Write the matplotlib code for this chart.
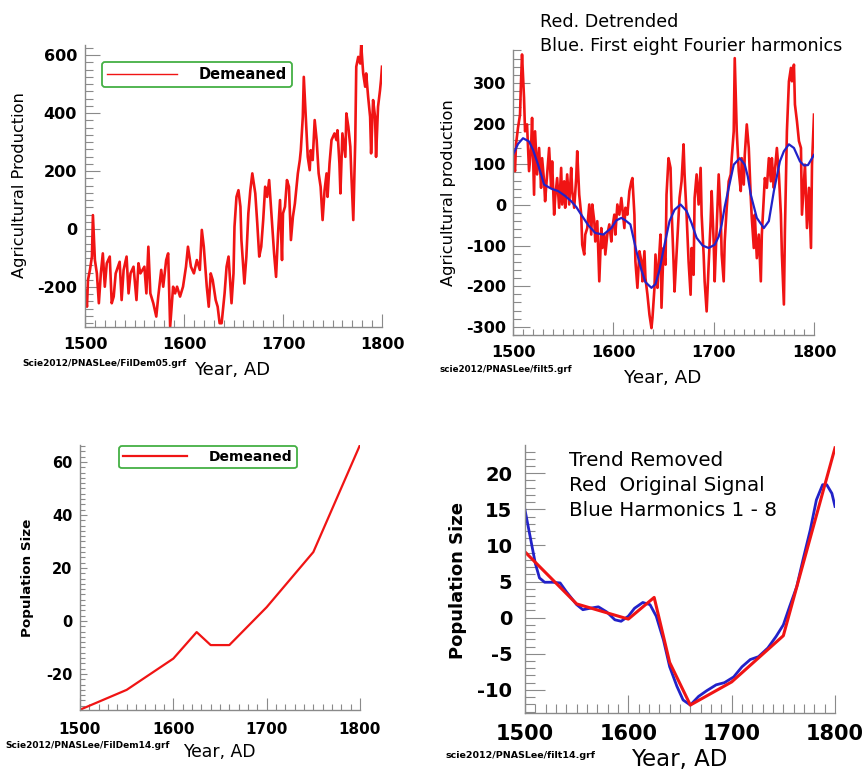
import matplotlib
matplotlib.use('Agg')
import matplotlib.pyplot as plt
from matplotlib.ticker import MultipleLocator

plt.rcParams['font.family'] = ['DejaVu Sans']
plt.rcParams['axes.unicode_minus'] = False

# ---------------- data ----------------
# Panel 1: agricultural production, demeaned
agri_years = [1500, 1502, 1503, 1505, 1507, 1508, 1510, 1512, 1514, 1516, 1518, 1520, 1522, 1525,
              1527, 1529, 1531, 1535, 1537, 1539, 1542, 1544, 1546, 1549, 1552, 1554, 1556, 1560,
              1562, 1564, 1566, 1569, 1572, 1574, 1577, 1579, 1582, 1584, 1586, 1589, 1591, 1593,
              1596, 1599, 1602, 1604, 1607, 1610, 1613, 1616, 1618, 1620, 1623, 1625, 1627, 1629,
              1632, 1634, 1636, 1638, 1641, 1643, 1645, 1648, 1650, 1651, 1653, 1655, 1657, 1658,
              1661, 1663, 1665, 1667, 1669, 1672, 1674, 1676, 1678, 1680, 1682, 1684, 1686, 1689,
              1691, 1693, 1695, 1697, 1699, 1700, 1702, 1704, 1706, 1708, 1710, 1712, 1715, 1717,
              1718, 1720, 1721, 1723, 1725, 1727, 1728, 1730, 1732, 1734, 1736, 1738, 1740, 1742,
              1744, 1745, 1747, 1749, 1752, 1754, 1755, 1757, 1758, 1760, 1763, 1764, 1766, 1768,
              1769, 1771, 1773, 1774, 1776, 1778, 1779, 1781, 1783, 1784, 1786, 1788, 1789, 1791,
              1793, 1794, 1796, 1798, 1799, 1800]
agri_demeaned = [-210, -268, -176, -141, -95, 48, -107, -153, -256, -153, -84, -199, -118, -95,
                 -256, -233, -153, -113, -245, -141, -95, -222, -153, -130, -245, -118, -153, -130,
                 -222, -61, -222, -256, -302, -233, -141, -199, -107, -84, -337, -199, -222, -199,
                 -233, -199, -130, -61, -130, -153, -107, -141, -3, -61, -199, -268, -153, -176,
                 -245, -268, -325, -325, -222, -130, -95, -256, -153, 8, 111, 134, 77, -38,
                 -188, -95, 54, 134, 192, 123, 20, -95, -61, 31, 146, 111, 169, 20,
                 -84, -165, -15, 100, -107, 54, 77, 169, 146, -38, 42, 88, 192, 238,
                 272, 387, 525, 387, 249, 203, 272, 238, 376, 307, 192, 146, 31, 134,
                 192, 111, 226, 307, 330, 307, 341, 226, 123, 330, 249, 399, 353, 284,
                 192, 31, 307, 560, 594, 571, 635, 537, 491, 537, 456, 387, 261, 445,
                 387, 249, 422, 479, 514, 560]

# Panel 2: detrended production (red) and first eight Fourier harmonics (blue)
detr_years = [1500, 1502, 1503, 1505, 1507, 1508, 1509, 1511, 1512, 1514, 1516, 1518, 1519, 1521,
              1522, 1524, 1526, 1528, 1529, 1531, 1532, 1534, 1536, 1538, 1539, 1541, 1542, 1544,
              1546, 1548, 1549, 1551, 1552, 1554, 1556, 1558, 1559, 1561, 1563, 1564, 1566, 1568,
              1569, 1571, 1572, 1574, 1576, 1578, 1579, 1581, 1582, 1584, 1586, 1588, 1589, 1591,
              1592, 1594, 1596, 1598, 1599, 1601, 1602, 1604, 1606, 1608, 1609, 1611, 1612, 1614,
              1616, 1618, 1619, 1621, 1622, 1624, 1626, 1628, 1629, 1631, 1632, 1634, 1636, 1638,
              1639, 1641, 1642, 1644, 1645, 1647, 1648, 1650, 1652, 1653, 1655, 1657, 1658, 1660,
              1661, 1664, 1666, 1668, 1670, 1671, 1673, 1675, 1677, 1678, 1680, 1681, 1683, 1685,
              1687, 1688, 1690, 1691, 1693, 1695, 1697, 1698, 1700, 1701, 1703, 1705, 1707, 1708,
              1710, 1711, 1713, 1715, 1717, 1718, 1720, 1721, 1723, 1725, 1727, 1728, 1730, 1731,
              1733, 1735, 1737, 1738, 1740, 1741, 1743, 1745, 1747, 1748, 1750, 1751, 1753, 1755,
              1757, 1758, 1760, 1761, 1763, 1765, 1767, 1768, 1770, 1771, 1773, 1775, 1777, 1778,
              1780, 1781, 1783, 1785, 1787, 1788, 1790, 1791, 1793, 1795, 1797, 1798, 1800]
detr_values = [123, 83, 149, 190, 222, 304, 370, 263, 181, 198, 83, 140, 214, 25,
               181, 75, 140, 42, 115, 58, 9, 75, 140, 42, 107, -24, 17, 66,
               -7, 91, 1, 58, -7, 75, 1, 91, 34, -7, 66, 132, 25, -24,
               -98, -122, -73, -57, 1, -73, 1, -40, -90, -40, -188, -57, -106, -73,
               -122, -73, -48, -90, -57, -24, -73, 1, -24, 17, -7, -57, -7, -24,
               34, 58, 66, -24, -139, -204, -114, -139, -188, -114, -180, -221, -270, -303,
               -278, -204, -122, -204, -155, -73, -253, -106, -147, 25, 115, 91, -7, -139,
               -213, -73, 17, 58, 149, 75, -24, -139, -221, -106, -172, 17, 75, 1,
               91, -24, -122, -188, -262, -147, -40, 34, -90, -188, -57, 75, -24, -122,
               -188, -90, -7, 58, 75, 115, 181, 361, 181, 83, 34, 115, 50, 123,
               198, 140, 17, -32, -106, -24, -131, -73, -188, -73, 17, 66, 42, 115,
               58, 115, 42, 83, 140, 75, -24, -122, -245, -65, 181, 304, 337, 304,
               345, 247, 206, 157, 140, -24, 58, 99, -57, 42, -106, 99, 222]
harm_years = [1500, 1505, 1510, 1516, 1520, 1525, 1531, 1538, 1545, 1552, 1558, 1563, 1568, 1575,
              1582, 1590, 1598, 1603, 1608, 1612, 1617, 1623, 1628, 1632, 1638, 1642, 1646, 1650,
              1656, 1661, 1667, 1673, 1678, 1683, 1689, 1695, 1701, 1705, 1708, 1711, 1715, 1720,
              1726, 1731, 1734, 1737, 1743, 1750, 1755, 1760, 1766, 1770, 1775, 1780, 1786, 1790,
              1794, 1800]
harm_values = [123, 150, 164, 156, 135, 99, 50, 40, 34, 22, 9, -5, -24, -50,
               -69, -73, -57, -38, -32, -38, -48, -114, -160, -190, -204, -195, -160, -110,
               -40, -12, 1, -15, -45, -81, -100, -106, -98, -78, -48, -5, 42, 99,
               115, 99, 70, 25, -32, -57, -40, 34, 107, 132, 149, 140, 107, 97,
               98, 123]

# Panel 3: population size, demeaned
pop_years = [1500, 1550, 1600, 1625, 1640, 1660, 1700, 1750, 1800]
pop_demeaned = [-33.5, -26.0, -14.2, -4.2, -9.1, -9.1, 5.2, 26.0, 66.4]

# Panel 4: population, trend removed (red) and harmonics 1-8 (blue)
pop_detrended = [9.1, 1.9, -0.2, 2.8, -6.2, -12.1, -8.9, -2.5, 23.5]
popharm_years = [1500, 1505, 1510, 1514, 1519, 1527, 1534, 1540, 1550, 1556, 1563, 1571, 1579, 1587,
                 1593, 1600, 1606, 1614, 1621, 1627, 1634, 1640, 1647, 1653, 1660, 1668, 1676, 1685,
                 1693, 1702, 1710, 1718, 1726, 1735, 1743, 1750, 1756, 1763, 1769, 1776, 1782, 1788,
                 1792, 1797, 1800]
popharm_values = [14.9, 11.2, 7.5, 5.5, 4.9, 4.9, 4.8, 3.6, 1.8, 1.1, 1.3, 1.5, 0.8, -0.3,
                  -0.5, 0.2, 1.3, 2.1, 1.8, 0.2, -3.1, -6.8, -9.5, -11.4, -12.1, -10.9, -10.1, -9.3,
                  -9.0, -8.2, -6.8, -5.8, -5.4, -4.2, -2.6, -1.0, 1.5, 4.3, 8.0, 12.1, 16.3, 18.4,
                  18.4, 17.2, 15.4]

x_ticks = [1500, 1600, 1700, 1800]

# ---------------- drawing ----------------
RED = '#f01414'
BLUE = '#2222c8'
GRAY = '#8a8a8a'
GREEN = '#44b044'
W, H = 866, 773

fig = plt.figure(figsize=(8.66, 7.73), dpi=100)
fig.patch.set_facecolor('white')


def add_axes(l, t, r, b):
    return fig.add_axes([l / W, 1 - b / H, (r - l) / W, (b - t) / H])


def style(ax, ylim, ymaj, ymin, xls, yls, ymaj_len, ymin_len, xmaj_len, xmin_len, xpad, ypad):
    ax.set_xlim(1500, 1800)
    ax.set_ylim(*ylim)
    for s in ['top', 'right']:
        ax.spines[s].set_visible(False)
    for s in ['left', 'bottom']:
        ax.spines[s].set_color(GRAY)
        ax.spines[s].set_linewidth(1.0)
    ax.set_xticks(x_ticks)
    ax.xaxis.set_minor_locator(MultipleLocator(10))
    ax.yaxis.set_major_locator(MultipleLocator(ymaj))
    ax.yaxis.set_minor_locator(MultipleLocator(ymin))
    ax.tick_params(axis='x', which='major', direction='in', length=xmaj_len, width=0.8,
                   color=GRAY, labelsize=xls, pad=xpad)
    ax.tick_params(axis='x', which='minor', direction='in', length=xmin_len, width=0.8, color=GRAY)
    ax.tick_params(axis='y', which='major', direction='in', length=ymaj_len, width=0.8,
                   color=GRAY, labelsize=yls, pad=ypad)
    ax.tick_params(axis='y', which='minor', direction='in', length=ymin_len, width=0.8, color=GRAY)
    for lab in ax.get_xticklabels() + ax.get_yticklabels():
        lab.set_fontweight('bold')
    ax.set_facecolor('none')


def labels(ax, xl, xsize, xpos, yl, ysize, ypos, yweight='normal'):
    ax.set_xlabel(xl, fontsize=xsize)
    ax.xaxis.label.set_va('center')
    ax.xaxis.set_label_coords(*xpos)
    ax.set_ylabel(yl, fontsize=ysize, fontweight=yweight)
    ax.yaxis.label.set_va('center')
    ax.yaxis.set_label_coords(*ypos)


# Panel 1
ax1 = add_axes(85, 45, 382, 327)
ax1.plot(agri_years, agri_demeaned, color=RED, lw=1.9, label='Demeaned')
style(ax1, (-338, 635), 200, 25, 11.5, 11.5, 11, 6, 9.5, 5, 7, 5.8)
labels(ax1, 'Year, AD', 13, (0.495, -0.152), 'Agricultural Production', 11.7, (-0.219, 0.504))
leg1 = ax1.legend(loc='upper left', bbox_to_anchor=(0.057, 0.94), borderaxespad=0, frameon=True,
                  fancybox=True, edgecolor=GREEN, framealpha=1, prop={'weight': 'bold', 'size': 10.5},
                  handlelength=4.8, handletextpad=1.5, borderpad=0.35)
leg1.get_frame().set_linewidth(1.3)
leg1.get_lines()[0].set_linewidth(1.0)
fig.text(22 / W, 1 - 363 / H, 'Scie2012/PNASLee/FilDem05.grf', fontsize=6.5, fontweight='bold',
         va='center', ha='left')

# Panel 2
ax2 = add_axes(513, 50, 814, 335)
ax2.plot(detr_years, detr_values, color=RED, lw=1.9)
ax2.plot(harm_years, harm_values, color=BLUE, lw=1.6)
style(ax2, (-320, 381), 100, 20, 11.5, 11.5, 12, 6, 9.5, 4, 7, 5)
labels(ax2, 'Year, AD', 13.2, (0.498, -0.151), 'Agricultural production', 11.7, (-0.213, 0.498))
fig.text(540 / W, 1 - 22 / H, 'Red. Detrended', fontsize=12.6, va='center', ha='left')
fig.text(540 / W, 1 - 46 / H, 'Blue. First eight Fourier harmonics', fontsize=12.6, va='center', ha='left')
fig.text(439 / W, 1 - 370 / H, 'scie2012/PNASLee/filt5.grf', fontsize=6.3, fontweight='bold',
         va='center', ha='left')

# Panel 3
ax3 = add_axes(80, 445, 360, 710)
ax3.plot(pop_years, pop_demeaned, color=RED, lw=1.6, label='Demeaned')
style(ax3, (-33.6, 66.4), 20, 2, 11, 10.5, 5, 3.5, 8.6, 4.3, 8.5, 5.5)
labels(ax3, 'Year, AD', 12.4, (0.497, -0.158), 'Population Size', 9.7, (-0.186, 0.498), 'bold')
leg3 = ax3.legend(loc='upper left', bbox_to_anchor=(0.139, 0.996), borderaxespad=0, frameon=True,
                  fancybox=True, edgecolor=GREEN, framealpha=1, prop={'weight': 'bold', 'size': 10},
                  handlelength=4.6, handletextpad=1.6, borderpad=0.3)
leg3.get_frame().set_linewidth(1.3)
fig.text(5 / W, 1 - 745 / H, 'Scie2012/PNASLee/FilDem14.grf', fontsize=6.5, fontweight='bold',
         va='center', ha='left')

# Panel 4
ax4 = add_axes(525, 445, 835, 713)
ax4.plot(popharm_years, popharm_values, color=BLUE, lw=2.0)
ax4.plot(pop_years, pop_detrended, color=RED, lw=2.2)
style(ax4, (-13.2, 23.9), 5, 1, 15, 14, 14.4, 7.2, 13, 6.5, 8, 9)
labels(ax4, 'Year, AD', 16.5, (0.497, -0.175), 'Population Size', 13, (-0.216, 0.496), 'bold')
for i, t in enumerate(['Trend Removed', 'Red  Original Signal', 'Blue Harmonics 1 - 8']):
    fig.text(569 / W, 1 - (461 + 24.5 * i) / H, t, fontsize=14.3, va='center', ha='left')
fig.text(445 / W, 1 - 755 / H, 'scie2012/PNASLee/filt14.grf', fontsize=6.8, fontweight='bold',
         va='center', ha='left')

fig.savefig('out.png', dpi=100, facecolor='white')
